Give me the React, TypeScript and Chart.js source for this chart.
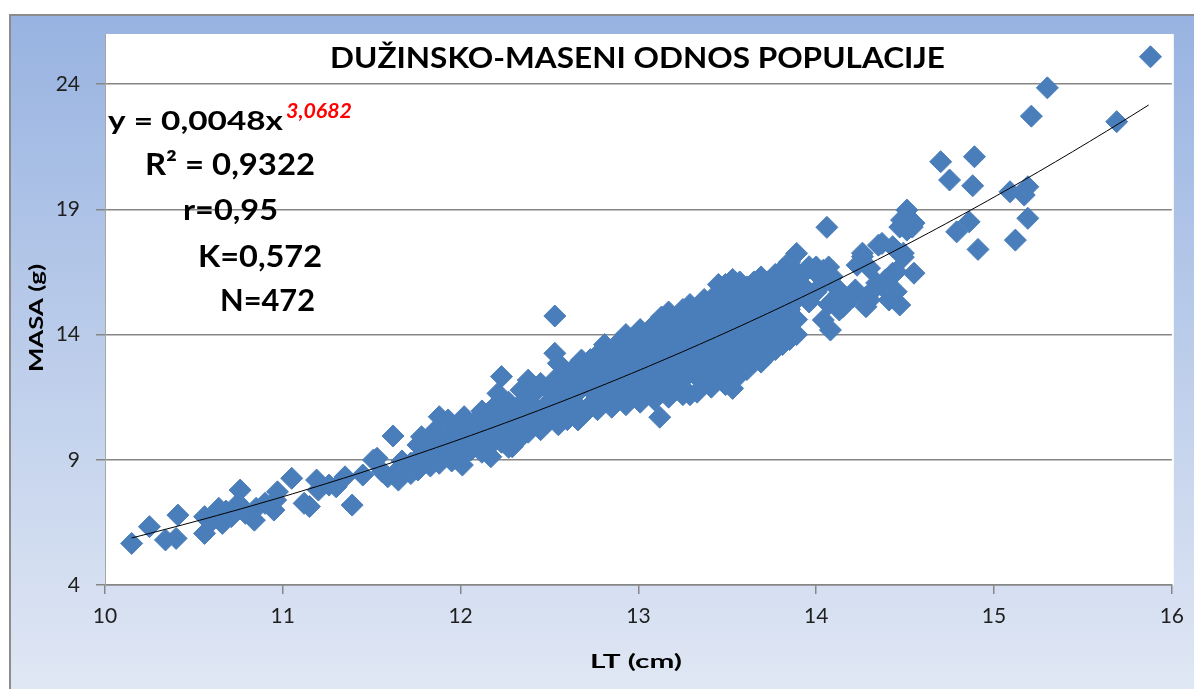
import { useEffect, useRef } from "react";
import { Chart, registerables } from "chart.js";

Chart.register(...registerables);

// ---------- texts ----------
const TITLE = "DUŽINSKO-MASENI ODNOS POPULACIJE";
const X_TITLE = "LT (cm)";
const Y_TITLE = "MASA (g)";
const EQ_MAIN = "y = 0,0048x";
const EQ_EXP = "3,0682";
const STAT_LINES = ["R² = 0,9322", "r=0,95", "K=0,572", "N=472"];

// ---------- axes ----------
const X_TICKS = [10, 11, 12, 13, 14, 15, 16];
const Y_TICKS = [4, 9, 14, 19, 24];
const X_MIN = 10;
const X_MAX = 16;
const Y_MIN = 4;
const Y_MAX = 26;

// ---------- trendline (power fit shown on the chart) ----------
const TREND_A = 0.0048;
const TREND_B = 3.0682;
const TREND_X_FROM = 10.15;
const TREND_X_TO = 15.87;

// ---------- measured points [LT cm, MASA g] ----------
const POINTS_SMALL: number[][] = [
  [10.15, 5.66], [10.25, 6.33], [10.34, 5.8], [10.4, 5.86], [10.41, 6.79], [10.56, 6.06],
  [10.56, 6.73], [10.6, 6.55], [10.63, 6.86], [10.64, 7.06], [10.66, 6.46], [10.68, 6.95],
  [10.71, 6.73], [10.75, 7.26], [10.76, 7.79], [10.79, 6.86], [10.84, 6.59], [10.85, 7.06],
  [10.9, 7.26], [10.95, 6.99], [10.96, 7.39], [10.97, 7.72], [11.05, 8.26], [11.12, 7.26],
  [11.15, 7.13], [11.19, 8.19], [11.2, 7.79], [11.26, 7.99], [11.3, 7.92], [11.35, 8.32],
  [11.39, 7.19], [11.45, 8.39], [11.51, 8.99], [11.53, 9.06], [11.56, 8.52], [11.62, 9.95],
];

const POINTS_MID: number[][] = [
  [11.59, 8.32], [11.65, 8.19], [11.65, 8.6], [11.67, 8.59], [11.67, 8.95], [11.72, 8.45],
  [11.72, 8.87], [11.76, 8.59], [11.76, 9.59], [11.78, 9.2], [11.78, 9.92], [11.83, 8.75],
  [11.83, 9.3], [11.86, 9.7], [11.86, 10.19], [11.88, 8.86], [11.88, 10.72], [11.91, 9.12],
  [11.91, 9.45], [11.93, 10.0], [11.93, 10.59], [11.95, 8.95], [11.95, 9.79], [11.99, 9.52],
  [11.99, 10.3], [12.01, 8.79], [12.01, 9.1], [12.02, 10.19], [12.02, 10.72], [12.06, 9.4],
  [12.06, 9.9], [12.08, 9.66], [12.08, 10.5], [12.12, 9.3], [12.12, 9.79], [12.12, 10.95],
  [12.14, 10.2], [12.14, 10.72], [12.17, 9.12], [12.17, 9.6], [12.19, 10.5], [12.19, 11.12],
  [12.21, 10.0], [12.21, 11.65], [12.23, 9.7], [12.23, 10.9], [12.23, 12.32], [12.27, 9.5],
  [12.27, 10.19], [12.27, 11.3], [12.29, 9.52], [12.3, 10.6], [12.3, 11.0], [12.34, 9.9],
  [12.34, 10.3], [12.34, 11.78], [12.36, 10.85], [12.36, 11.4], [12.38, 10.1], [12.38, 12.18],
  [12.42, 10.45], [12.42, 11.1], [12.42, 11.7], [12.45, 10.2], [12.45, 10.7], [12.45, 12.05],
  [12.49, 10.5], [12.49, 11.25], [12.49, 11.8], [12.53, 10.9], [12.53, 12.2], [12.53, 13.25],
  [12.53, 14.74], [12.55, 10.4], [12.55, 11.5], [12.55, 12.85], [12.57, 11.78], [12.57, 12.4],
  [12.6, 10.6], [12.6, 10.99], [12.6, 11.5], [12.6, 12.0], [12.63, 10.8], [12.63, 11.3],
  [12.63, 12.6], [12.66, 10.59], [12.66, 11.7], [12.66, 12.1], [12.68, 11.0], [12.68, 12.98],
  [12.69, 10.8], [12.69, 12.45],
];

const POINTS_UPPER: number[][] = [
  [12.73, 11.2], [12.73, 11.8], [12.73, 12.3], [12.73, 13.0],
  [12.77, 11.0], [12.77, 11.5], [12.77, 12.1], [12.77, 12.7], [12.77, 13.2],
  [12.81, 11.3], [12.81, 11.9], [12.81, 12.4], [12.81, 13.0], [12.81, 13.6],
  [12.85, 11.1], [12.85, 11.7], [12.85, 12.2], [12.85, 12.8], [12.85, 13.4],
  [12.89, 11.4], [12.89, 12.0], [12.89, 12.5], [12.89, 13.1], [12.89, 13.7],
  [12.93, 11.2], [12.93, 11.8], [12.93, 12.3], [12.93, 12.9], [12.93, 13.5], [12.93, 14.0],
  [12.97, 11.5], [12.97, 12.1], [12.97, 12.6], [12.97, 13.2], [12.97, 13.8],
  [13.01, 11.3], [13.01, 11.9], [13.01, 12.4], [13.01, 13.0], [13.01, 13.6], [13.01, 14.2],
  [13.05, 11.6], [13.05, 12.2], [13.05, 12.7], [13.05, 13.3], [13.05, 13.9],
  [13.09, 11.4], [13.09, 12.0], [13.09, 12.5], [13.09, 13.1], [13.09, 13.7], [13.09, 14.4],
  [13.12, 10.7],
  [13.13, 11.7], [13.13, 12.3], [13.13, 12.9], [13.13, 13.4], [13.13, 14.0], [13.13, 14.7],
  [13.17, 11.5], [13.17, 12.1], [13.17, 12.6], [13.17, 13.2], [13.17, 13.8], [13.17, 14.4], [13.17, 14.9],
  [13.21, 11.8], [13.21, 12.4], [13.21, 12.9], [13.21, 13.5], [13.21, 14.1], [13.21, 14.6],
  [13.25, 11.6], [13.25, 12.2], [13.25, 12.8], [13.25, 13.3], [13.25, 13.9], [13.25, 14.5], [13.25, 15.0],
  [13.29, 11.6], [13.29, 12.5], [13.29, 13.1], [13.29, 13.6], [13.29, 14.2], [13.29, 14.8], [13.29, 15.2],
  [13.33, 11.7], [13.33, 12.3], [13.33, 12.9], [13.33, 13.4], [13.33, 14.0], [13.33, 14.6], [13.33, 15.1],
  [13.37, 12.1], [13.37, 12.6], [13.37, 13.2], [13.37, 13.8], [13.37, 14.3], [13.37, 14.9], [13.37, 15.4],
  [13.41, 11.9], [13.41, 12.4], [13.41, 13.0], [13.41, 13.6], [13.41, 14.1], [13.41, 14.7], [13.41, 15.3],
  [13.45, 12.2], [13.45, 12.8], [13.45, 13.3], [13.45, 13.9], [13.45, 14.5], [13.45, 15.0], [13.45, 15.7], [13.45, 16.0],
  [13.49, 12.0], [13.49, 12.5], [13.49, 13.1], [13.49, 13.7], [13.49, 14.3], [13.49, 14.8], [13.49, 15.4], [13.49, 16.0],
  [13.53, 11.85], [13.53, 12.4], [13.53, 13.0], [13.53, 13.5], [13.53, 14.1], [13.53, 14.6], [13.53, 15.2], [13.53, 15.8], [13.53, 16.2],
  [13.57, 12.4], [13.57, 12.7], [13.57, 13.3], [13.57, 13.8], [13.57, 14.4], [13.57, 15.0], [13.57, 15.6], [13.57, 16.1],
  [13.61, 12.6], [13.61, 12.9], [13.61, 13.5], [13.61, 14.1], [13.61, 14.7], [13.61, 15.3], [13.61, 15.9],
  [13.65, 12.9], [13.65, 13.2], [13.65, 13.7], [13.65, 14.3], [13.65, 14.9], [13.65, 15.5], [13.65, 16.1],
  [13.69, 12.9], [13.69, 13.4], [13.69, 14.0], [13.69, 14.6], [13.69, 15.2], [13.69, 15.8], [13.69, 16.3],
  [13.73, 13.2], [13.73, 13.7], [13.73, 14.3], [13.73, 14.9], [13.73, 15.5], [13.73, 16.1],
  [13.77, 13.4], [13.77, 14.2], [13.77, 14.8], [13.77, 15.4], [13.77, 16.0], [13.77, 16.4],
  [13.81, 13.6], [13.81, 14.1], [13.81, 14.7], [13.81, 15.3], [13.81, 15.9], [13.81, 16.6],
  [13.85, 13.8], [13.85, 14.4], [13.85, 15.0], [13.85, 15.6], [13.85, 16.2], [13.85, 16.9],
  [13.89, 14.0], [13.89, 14.6], [13.89, 15.4], [13.89, 15.8], [13.89, 16.5], [13.89, 17.24],
];

const POINTS_LARGE: number[][] = [
  [13.93, 15.91], [13.93, 16.45], [13.96, 16.71], [13.96, 15.3], [14.0, 16.7], [14.0, 15.7],
  [14.02, 15.9], [14.02, 16.31], [14.04, 14.58], [14.04, 16.57], [14.06, 18.28], [14.07, 16.7],
  [14.07, 15.2], [14.08, 14.18], [14.09, 16.31], [14.11, 15.9], [14.13, 14.98], [14.13, 15.64],
  [14.15, 15.11], [14.17, 15.38], [14.21, 15.51], [14.22, 15.78], [14.23, 16.77], [14.26, 17.11],
  [14.26, 17.25], [14.28, 15.11], [14.28, 15.5], [14.3, 15.38], [14.3, 16.65], [14.34, 15.91],
  [14.34, 16.06], [14.35, 17.57], [14.37, 17.64], [14.39, 16.18], [14.41, 15.38], [14.41, 15.66],
  [14.43, 17.51], [14.43, 16.45], [14.45, 15.71], [14.45, 16.51], [14.47, 15.18], [14.47, 18.29],
  [14.48, 18.57], [14.49, 17.25], [14.49, 17.09], [14.51, 18.97], [14.51, 18.17], [14.54, 18.29],
  [14.55, 18.45], [14.55, 16.45], [14.7, 20.9], [14.75, 20.17], [14.79, 18.1], [14.86, 18.5],
  [14.88, 19.94], [14.89, 21.1], [14.91, 17.4], [15.09, 19.7], [15.12, 17.77], [15.17, 19.57],
  [15.19, 19.9], [15.19, 18.64], [15.21, 22.72], [15.3, 23.85], [15.69, 22.5], [15.88, 25.09],
];

const W = 1194;
const H = 689;
const FONT = "Lato, 'Open Sans', 'DejaVu Sans', sans-serif";

function fitText(
  ctx: CanvasRenderingContext2D,
  text: string,
  x: number,
  baseline: number,
  width: number,
  font: string,
  color: string
) {
  ctx.save();
  ctx.font = font;
  ctx.fillStyle = color;
  ctx.textAlign = "left";
  ctx.textBaseline = "alphabetic";
  const w = ctx.measureText(text).width || 1;
  ctx.translate(x, baseline);
  ctx.scale(width / w, 1);
  ctx.fillText(text, 0, 0);
  ctx.restore();
}

const decorPlugin = {
  id: "decor",
  beforeDraw(chart: any) {
    const { ctx, chartArea } = chart;
    ctx.save();
    ctx.fillStyle = "#ffffff";
    ctx.fillRect(0, 0, W, H);
    const g = ctx.createLinearGradient(0, 16, 0, H);
    g.addColorStop(0, "#98B3E1");
    g.addColorStop(1, "#E0E7F4");
    ctx.fillStyle = g;
    ctx.fillRect(11, 16, W - 11, H - 16);
    ctx.fillStyle = "#8C8C8C";
    ctx.fillRect(9, 14, W - 9, 2);
    ctx.fillRect(9, 14, 2, H - 14);
    ctx.fillStyle = "#ffffff";
    ctx.fillRect(
      chartArea.left,
      chartArea.top,
      chartArea.right - chartArea.left + 2,
      chartArea.bottom - chartArea.top
    );
    ctx.restore();
  },
  afterDraw(chart: any) {
    const { ctx } = chart;
    fitText(ctx, TITLE, 330, 68, 615, `bold 29px ${FONT}`, "#000000");
    fitText(ctx, EQ_MAIN, 108, 130, 175, `bold 26px ${FONT}`, "#000000");
    fitText(ctx, EQ_EXP, 286, 118, 66, `italic bold 20px ${FONT}`, "#FF0000");
    fitText(ctx, STAT_LINES[0], 145, 175, 170, `bold 30px ${FONT}`, "#000000");
    fitText(ctx, STAT_LINES[1], 183, 220, 95, `bold 29px ${FONT}`, "#000000");
    fitText(ctx, STAT_LINES[2], 198, 267, 124, `bold 30px ${FONT}`, "#000000");
    fitText(ctx, STAT_LINES[3], 220, 311, 95, `bold 30px ${FONT}`, "#000000");
    fitText(ctx, X_TITLE, 590, 668, 92, `bold 18px ${FONT}`, "#000000");
    ctx.save();
    ctx.translate(43, 372);
    ctx.rotate(-Math.PI / 2);
    fitText(ctx, Y_TITLE, 0, 0, 108, `bold 19px ${FONT}`, "#000000");
    ctx.restore();
  },
};

export default function App() {
  const canvasRef = useRef<HTMLCanvasElement | null>(null);

  useEffect(() => {
    const canvas = canvasRef.current;
    if (!canvas) return;

    const toXY = (arr: number[][]) => arr.map(([x, y]) => ({ x, y }));
    const scatterData = [
      ...toXY(POINTS_SMALL),
      ...toXY(POINTS_MID),
      ...toXY(POINTS_UPPER),
      ...toXY(POINTS_LARGE),
    ];
    const trendData: { x: number; y: number }[] = [];
    const steps = 120;
    for (let i = 0; i <= steps; i++) {
      const x = TREND_X_FROM + ((TREND_X_TO - TREND_X_FROM) * i) / steps;
      trendData.push({ x, y: TREND_A * Math.pow(x, TREND_B) });
    }

    const chart = new Chart(canvas, {
      type: "scatter",
      data: {
        datasets: [
          {
            label: "trend",
            data: trendData,
            showLine: true,
            borderColor: "#000000",
            borderWidth: 1,
            pointRadius: 0,
            fill: false,
            order: 0,
          } as any,
          {
            label: "MASA",
            data: scatterData,
            pointStyle: "rectRot",
            pointRadius: 11,
            backgroundColor: "#4A7EBB",
            borderColor: "#4A7EBB",
            borderWidth: 1,
            order: 1,
          } as any,
        ],
      },
      options: {
        responsive: false,
        animation: false,
        devicePixelRatio: 1,
        layout: { padding: { left: 0, top: 34, right: 16, bottom: 0 } },
        plugins: {
          legend: { display: false },
          tooltip: { enabled: false },
          title: { display: false },
        },
        events: [],
        scales: {
          x: {
            type: "linear",
            min: X_MIN,
            max: X_MAX,
            afterFit: (s: any) => {
              s.height = H - 585;
            },
            afterBuildTicks: (s: any) => {
              s.ticks = X_TICKS.map((v) => ({ value: v }));
            },
            grid: {
              drawOnChartArea: false,
              drawTicks: true,
              tickLength: 9,
              color: "#868686",
              lineWidth: 1.5,
            },
            border: { display: true, color: "#868686", width: 1.5 },
            ticks: {
              padding: 10,
              color: "#1F1F1F",
              font: { family: FONT, size: 21 },
              maxRotation: 0,
            },
          },
          y: {
            type: "linear",
            min: Y_MIN,
            max: Y_MAX,
            afterFit: (s: any) => {
              s.width = 105;
            },
            afterBuildTicks: (s: any) => {
              s.ticks = Y_TICKS.map((v) => ({ value: v }));
            },
            grid: {
              drawOnChartArea: true,
              drawTicks: true,
              tickLength: 9,
              color: "#868686",
              lineWidth: 1.5,
            },
            border: { display: true, color: "#A6A6A6", width: 1 },
            ticks: {
              padding: 16,
              color: "#1F1F1F",
              font: { family: FONT, size: 21 },
            },
          },
        },
      } as any,
      plugins: [decorPlugin],
    });

    let alive = true;
    if ((document as any).fonts && (document as any).fonts.load) {
      Promise.all([
        (document as any).fonts.load(`bold 20px Lato`),
        (document as any).fonts.load(`20px Lato`),
        (document as any).fonts.load(`italic bold 20px Lato`),
      ])
        .then(() => {
          if (alive) chart.update();
        })
        .catch(() => {});
    }

    return () => {
      alive = false;
      chart.destroy();
    };
  }, []);

  return (
    <div style={{ position: "absolute", left: 0, top: 0, width: W, height: H }}>
      <canvas ref={canvasRef} width={W} height={H} style={{ display: "block", width: W, height: H }} />
    </div>
  );
}
